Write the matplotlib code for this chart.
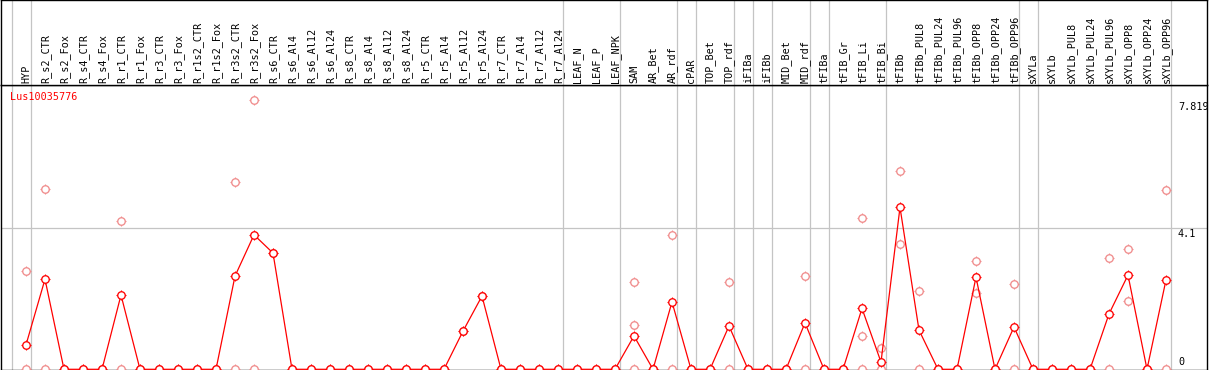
import matplotlib
matplotlib.use("Agg")
import matplotlib.pyplot as plt
from matplotlib.transforms import blended_transform_factory

columns = ["HYP", "R_s2_CTR", "R_s2_Fox", "R_s4_CTR", "R_s4_Fox", "R_r1_CTR", "R_r1_Fox",
           "R_r3_CTR", "R_r3_Fox", "R_r1s2_CTR", "R_r1s2_Fox", "R_r3s2_CTR", "R_r3s2_Fox",
           "R_s6_CTR", "R_s6_Al4", "R_s6_Al12", "R_s6_Al24", "R_s8_CTR", "R_s8_Al4",
           "R_s8_Al12", "R_s8_Al24", "R_r5_CTR", "R_r5_Al4", "R_r5_Al12", "R_r5_Al24",
           "R_r7_CTR", "R_r7_Al4", "R_r7_Al12", "R_r7_Al24", "LEAF_N", "LEAF_P", "LEAF_NPK",
           "SAM", "AR_Bet", "AR_rdf", "cPAR", "TOP_Bet", "TOP_rdf", "iFIBa", "iFIBb",
           "MID_Bet", "MID_rdf", "tFIBa", "tFIB_Gr", "tFIB_Li", "tFIB_Bi", "tFIBb",
           "tFIBb_PUL8", "tFIBb_PUL24", "tFIBb_PUL96", "tFIBb_OPP8", "tFIBb_OPP24",
           "tFIBb_OPP96", "sXYLa", "sXYLb", "sXYLb_PUL8", "sXYLb_PUL24", "sXYLb_PUL96",
           "sXYLb_OPP8", "sXYLb_OPP24", "sXYLb_OPP96"]

means = [0.71, 2.62, 0, 0, 0, 2.16, 0, 0, 0, 0, 0, 2.71, 3.91, 3.38, 0,
         0, 0, 0, 0, 0, 0, 0, 0, 1.11, 2.13, 0, 0, 0, 0, 0,
         0, 0, 0.97, 0, 1.96, 0, 0, 1.26, 0, 0, 0, 1.35, 0, 0, 1.77,
         0.21, 4.71, 1.14, 0, 0, 2.68, 0, 1.23, 0, 0, 0, 0, 1.61, 2.74, 0,
         2.60]

replicates = [[2.86, 0], [5.24, 0], [0], [0], [0], [4.31, 0], [0], [0], [0], [0], [0],
              [5.44, 0], [7.819, 0], [3.38], [0], [0], [0], [0], [0], [0], [0], [0], [0],
              [1.11], [2.13], [0], [0], [0], [0], [0], [0], [0],
              [2.53, 1.28, 0], [0], [3.90, 0], [0], [0], [2.53, 0], [0], [0], [0],
              [2.70, 0], [0], [0], [4.40, 0.96, 0], [0.63, 0], [5.77, 3.64],
              [2.28, 0], [0], [0], [3.14, 2.21], [0], [2.47, 0], [0], [0], [0], [0],
              [3.23, 0], [3.49, 1.98], [0], [5.20, 0]]

group_starts = [0, 1, 29, 32, 35, 36, 38, 39, 40, 42, 43, 46, 53, 54, 61]
gene = "Lus10035776"
axis_max = 7.819
grid_value = 4.1

W, H = 1209, 370
fig = plt.figure(figsize=(W / 100, H / 100), dpi=100)
fig.patch.set_facecolor("white")

header_px = 85
left_px, right_px = 1, 1207
ax = fig.add_axes([left_px / W, 0, (right_px - left_px) / W, (H - header_px) / H])
hx = fig.add_axes([left_px / W, (H - header_px) / H, (right_px - left_px) / W, header_px / H])

# x: column i at pixel 26 + 19*i
x0 = (left_px - 26) / 19
x1 = (right_px - 26) / 19
# y: 0 at px 369.3, 4.1 at px 228.3
ppu = 141 / 4.1
ylo = -(370 - 369.3) / ppu
yhi = (369.3 - header_px) / ppu
for a in (ax, hx):
    a.set_xlim(x0, x1)
    a.set_xticks([])
    a.set_yticks([])
    for s in a.spines.values():
        s.set_color("black")
        s.set_linewidth(1.0)
ax.set_ylim(ylo, yhi)
hx.set_ylim(0, header_px)

grey = "#C4C4C4"
for g in group_starts:
    ax.axvline(g - 0.75, color=grey, lw=0.9, zorder=1)
    hx.axvline(g - 0.75, color=grey, lw=0.9, zorder=1)
ax.axhline(grid_value, color=grey, lw=0.9, zorder=1)

mono = "DejaVu Sans Mono"
fs = 7.3
for i, name in enumerate(columns):
    hx.text(i + 0.16, header_px - 83, name, rotation=90, rotation_mode="anchor",
            ha="left", va="baseline", fontsize=fs, family=mono, color="black")

pink = "#F08C8C"
red = "#FF0000"

def markers(xs, ys, color, z):
    ax.plot(xs, ys, ls="none", marker="+", ms=7.0, mew=0.8, color=color,
            zorder=z, clip_on=False)
    ax.plot(xs, ys, ls="none", marker="o", ms=5.4, mew=0.95, mec=color, mfc="white",
            zorder=z + 0.1, clip_on=False)

rx, ry = [], []
for i, reps in enumerate(replicates):
    for v in reps:
        rx.append(i)
        ry.append(v)
markers(rx, ry, pink, 3)

xs = list(range(len(means)))
ax.plot(xs, means, color=red, lw=0.9, zorder=4, clip_on=False)
markers(xs, means, red, 5)

ax.text((10 - left_px) / (right_px - left_px), 1 - (97 - header_px) / (H - header_px),
        gene, transform=ax.transAxes, ha="left", va="center", fontsize=fs,
        family=mono, color=red)

tr = blended_transform_factory(ax.transAxes, ax.transData)
lx = (1178 - left_px) / (right_px - left_px)
ax.text(lx, axis_max - 0.06, f"{axis_max:g}", transform=tr, ha="left", va="top",
        fontsize=fs, family=mono, color="black")
ax.text(lx, grid_value - 0.03, f"{grid_value:g}", transform=tr, ha="left", va="top",
        fontsize=fs, family=mono, color="black")
ax.text(lx, 0.06, "0", transform=tr, ha="left", va="bottom",
        fontsize=fs, family=mono, color="black")

fig.savefig("out.png", dpi=100, facecolor="white")
